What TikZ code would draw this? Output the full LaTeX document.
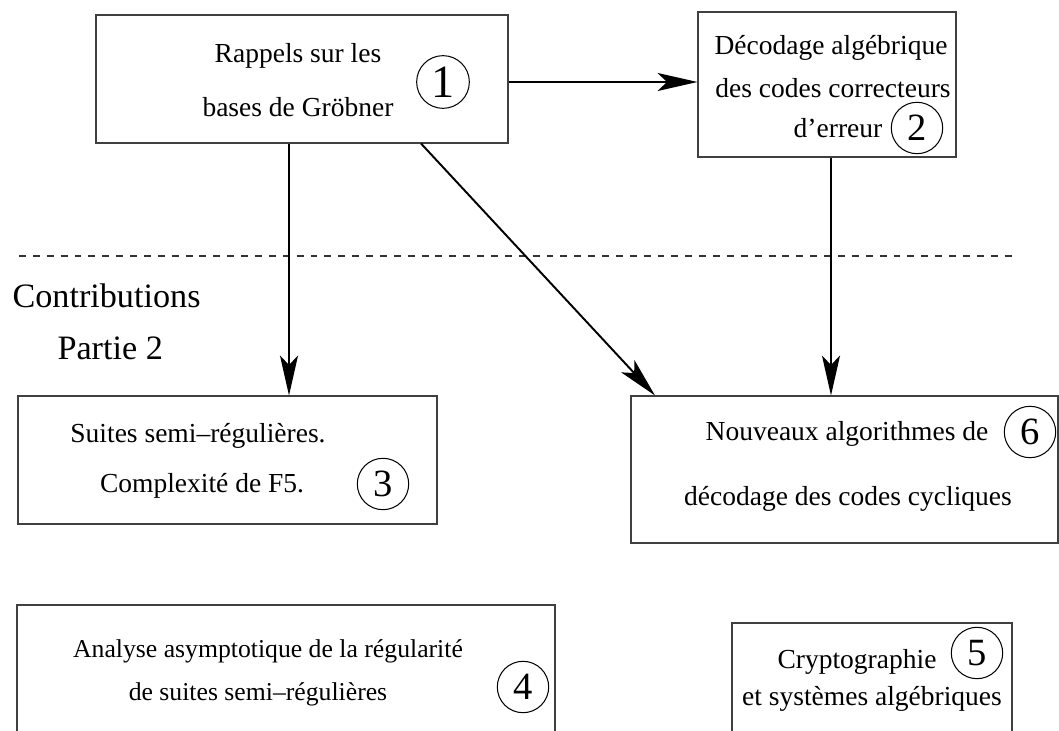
\documentclass[tikz,border=0pt]{standalone}
\usepackage{fontspec}
\setmainfont{Liberation Serif}
\usetikzlibrary{arrows.meta}
\usetikzlibrary{fit}

\tikzset{
  box/.style={draw=black!75, line width=0.4pt, inner sep=0pt},
  txt/.style={anchor=base, inner sep=0pt, font=\fontsize{10.7}{12}\selectfont},
  num/.style={draw, circle, line width=0.4pt, minimum size=20pt, inner sep=0pt, font=\fontsize{15}{18}\selectfont},
  arr/.style={-{Stealth[length=15.5pt, width=7pt, inset=3.6pt]}, line width=0.75pt},
  sep/.style={line width=0.4pt, black!80, dash pattern=on 2.7pt off 2.7pt}
}

\begin{document}
\begin{tikzpicture}[x=0.389pt, y=-0.389pt]
  \useasboundingbox (0,0) rectangle (1059,731);

  \node [box, fit={(96,15) (508,143)}] (b1) {};
  \node [box, fit={(698,12) (956,157)}] (b2) {};
  \node [box, fit={(18,396) (437,524)}] (b3) {};
  \node [box, fit={(17,605) (555,760)}] (b4) {};
  \node [box, fit={(732,623) (1012,760)}] (b5) {};
  \node [box, fit={(631,396) (1058,543)}] (b6) {};

  \node [txt] (t1a) at (298,63) {Rappels sur les};
  \node [txt] (t1b) at (298,117) {bases de Gröbner};
  \node [num, minimum size=20.5pt, font=\fontsize{18}{20}\selectfont] (c1) at (443,82) {1};

  \node [txt] (t2a) at (831,55) {Décodage algébrique};
  \node [txt] (t2b) at (833,98) {des codes correcteurs};
  \node [txt] (t2c) at (838,138) {d’erreur};
  \node [num] (c2) at (917,128) {2};

  \node [txt] (t3a) at (198,442) {Suites semi--régulières.};
  \node [txt] (t3b) at (202,492) {Complexité de F5.};
  \node [num] (c3) at (383,484) {3};

  \node [txt, font=\fontsize{10}{12}\selectfont] (t4a) at (268,657) {Analyse asymptotique de la régularité};
  \node [txt, font=\fontsize{10}{12}\selectfont] (t4b) at (258,700) {de suites semi--régulières};
  \node [num] (c4) at (523,687) {4};

  \node [txt] (t5a) at (857,668) {Cryptographie};
  \node [txt] (t5b) at (872,705) {et systèmes algébriques};
  \node [num] (c5) at (977,653) {5};

  \node [txt] (t6a) at (847,440) {Nouveaux algorithmes de};
  \node [txt] (t6b) at (848,505) {décodage des codes cycliques};
  \node [num] (c6) at (1030,432) {6};

  \node [txt, anchor=base west, font=\fontsize{13.3}{16}\selectfont] (contr) at (12,308) {Contributions};
  \node [txt, anchor=base west, font=\fontsize{13.3}{16}\selectfont] (part) at (57,360) {Partie 2};

  \coordinate (dl) at (19,256);
  \coordinate (dr) at (1017,256);
  \draw [sep] (dl) -- (dr);

  \coordinate (x3) at (289,0);
  \coordinate (x6) at (831,0);
  \coordinate (d1) at (421,0);
  \coordinate (d6) at (655,0);
  \draw [arr] (b1.east |- c1) -- (b2.west |- c1);
  \draw [arr] (b1.south -| x3) -- (b3.north -| x3);
  \draw [arr] (b1.south -| d1) -- (b6.north -| d6);
  \draw [arr] (b2.south -| x6) -- (b6.north -| x6);
\end{tikzpicture}
\end{document}
